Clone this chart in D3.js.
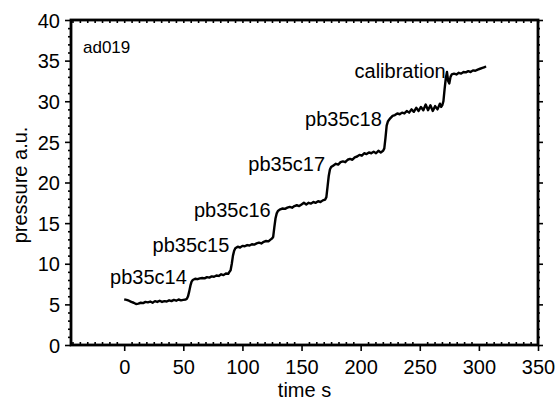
<!DOCTYPE html>
<html>
<head>
<meta charset="utf-8">
<script src="https://cdn.jsdelivr.net/npm/d3@7"></script>
<style>
  body { margin: 0; background: #fff; }
  text { font-family: "Liberation Sans", Arial, Helvetica, sans-serif; fill: #000; }
</style>
</head>
<body>
<svg width="557" height="402"></svg>
<script>
// trace, time s / pressure a.u.
var times = [0, 2, 4, 6, 8, 10, 12, 14, 16, 18, 20, 22, 24, 26, 28, 30, 32, 34, 36, 38, 40, 42, 44, 46, 48, 50, 52, 53, 54, 55, 56, 57, 58,
  60, 62, 64, 66, 68, 70, 72, 74, 76, 78, 80, 82, 84, 86, 88, 89, 90, 91, 92, 93, 94,
  96, 98, 100, 102, 104, 106, 108, 110, 112, 114, 116, 118, 120, 122, 124, 125, 126, 127, 128, 129,
  130, 132, 134, 136, 138, 140, 142, 144, 146, 148, 150, 152, 154, 156, 158, 160, 162, 164, 166, 168, 170, 171, 172, 173, 174, 175,
  177, 179, 181, 183, 185, 187, 189, 191, 193, 195, 197, 199, 201, 203, 205, 207, 209, 211, 213, 215, 217, 219, 220, 221, 222, 223,
  225, 227, 229, 231, 233, 235, 237, 239, 241, 243, 245, 247, 249, 251, 253, 255, 257, 259, 261, 263, 265, 267, 268, 269, 270, 271, 272, 273, 274, 275, 276, 277,
  279, 281, 283, 285, 287, 289, 291, 293, 295, 297, 299, 301, 303, 305, 306];
var pressure = [5.62, 5.55, 5.45, 5.3, 5.2, 5.05, 5.1, 5.2, 5.15, 5.3, 5.25, 5.35, 5.2, 5.4, 5.3, 5.45, 5.3, 5.4, 5.35, 5.5, 5.4, 5.55, 5.45, 5.6, 5.5, 5.55, 5.6, 5.7, 6.0, 6.6, 7.3, 7.8, 8.0,
  8.15, 8.1, 8.2, 8.25, 8.2, 8.35, 8.3, 8.45, 8.4, 8.55, 8.5, 8.7, 8.6, 8.8, 8.75, 9.0, 9.2, 10.0, 11.0, 11.6, 11.9,
  12.1, 12.0, 12.2, 12.15, 12.3, 12.25, 12.4, 12.35, 12.5, 12.6, 12.5, 12.7, 12.8, 12.75, 13.0, 13.1, 13.3, 14.5, 15.6, 16.2,
  16.5, 16.7, 16.8, 16.75, 16.9, 17.0, 16.9, 17.1, 17.2, 17.1, 17.3, 17.5, 17.3, 17.5, 17.4, 17.6, 17.5, 17.7, 17.6, 17.8, 17.9, 18.2, 19.5, 20.8, 21.6, 21.9,
  22.1, 22.3, 22.2, 22.5, 22.6, 22.5, 22.8, 22.9, 22.8, 23.1, 23.2, 23.4, 23.3, 23.6, 23.5, 23.7, 23.6, 23.8, 23.6, 23.9, 23.7, 23.9, 24.2, 25.5, 27.0, 27.5,
  27.9, 28.2, 28.3, 28.5, 28.4, 28.6, 28.5, 28.8, 28.6, 29.0, 28.7, 29.2, 28.8, 29.3, 28.9, 29.6, 28.9, 29.5, 28.8, 29.4, 29.0, 29.7, 29.3, 29.5, 30.0, 31.5, 32.8, 33.6, 32.5, 32.2, 33.0, 33.3,
  33.4, 33.3, 33.5, 33.4, 33.6, 33.55, 33.7, 33.6, 33.8, 33.75, 33.9, 34.0, 34.1, 34.2, 34.3];

// each run's label sits at the top of its step
var runLabels = ["pb35c14", "pb35c15", "pb35c16", "pb35c17", "pb35c18", "calibration"];
var runStepTimes = [58, 94, 129, 175, 223, 277];
var sampleName = "ad019";

var xTicks = [0, 50, 100, 150, 200, 250, 300, 350];
var yTicks = [0, 5, 10, 15, 20, 25, 30, 35, 40];

var svg = d3.select("svg"),
  margin = {top: 20, right: 19, bottom: 57, left: 71},
  width = +svg.attr("width") - margin.left - margin.right,
  height = +svg.attr("height") - margin.top - margin.bottom;

var x = d3.scaleLinear().domain([-45, 350]).range([0, width]);
var y = d3.scaleLinear().domain([0, 40]).range([height, 0]);

var g = svg.append("g")
  .attr("transform", "translate(" + margin.left + "," + margin.top + ")");

var data = times.map(function(t, i) { return {t: t, v: pressure[i]}; });

// minor ticks
var xMinor = d3.range(-43.75, 350, 6.25).filter(function(d) { return xTicks.indexOf(d) < 0; });
var yMinor = d3.range(1, 40, 1).filter(function(d) { return yTicks.indexOf(d) < 0; });

function tickStyle(sel) {
  sel.selectAll(".domain").remove();
  sel.selectAll("line").attr("stroke", "#000").attr("stroke-width", 1.6);
}

// bottom
g.append("g").attr("transform", "translate(0," + height + ")")
  .call(d3.axisBottom(x).tickValues(xTicks).tickSize(6).tickPadding(9).tickFormat(d3.format("d")))
  .call(tickStyle)
  .selectAll("text").style("font-size", "20px").attr("dy", "0.71em");
g.append("g").attr("transform", "translate(0," + height + ")")
  .call(d3.axisTop(x).tickValues(xMinor).tickSize(3).tickFormat(""))
  .call(tickStyle);

// top
g.append("g")
  .call(d3.axisBottom(x).tickValues(xTicks.concat(xMinor)).tickSize(3).tickFormat(""))
  .call(tickStyle);

// left
g.append("g")
  .call(d3.axisLeft(y).tickValues(yTicks).tickSize(6).tickPadding(5).tickFormat(d3.format("d")))
  .call(tickStyle)
  .selectAll("text").style("font-size", "20px").attr("dy", "0.36em");
g.append("g")
  .call(d3.axisLeft(y).tickValues(yMinor).tickSize(3).tickFormat(""))
  .call(tickStyle);

// right
g.append("g").attr("transform", "translate(" + width + ",0)")
  .call(d3.axisRight(y).tickValues(yTicks).tickSize(5).tickFormat(""))
  .call(tickStyle);
g.append("g").attr("transform", "translate(" + width + ",0)")
  .call(d3.axisRight(y).tickValues(yMinor).tickSize(2).tickFormat(""))
  .call(tickStyle);

// frame
g.append("rect")
  .attr("width", width)
  .attr("height", height)
  .attr("fill", "none")
  .attr("stroke", "#000")
  .attr("stroke-width", 2.8);

// trace
g.append("path")
  .datum(data)
  .attr("fill", "none")
  .attr("stroke", "#000")
  .attr("stroke-width", 2.4)
  .attr("stroke-linejoin", "round")
  .attr("d", d3.line()
    .x(function(d) { return x(d.t); })
    .y(function(d) { return y(d.v); }));

// run labels
g.selectAll(null)
  .data(runLabels)
  .enter()
  .append("text")
  .attr("x", function(d, i) { return x(runStepTimes[i]) - 6; })
  .attr("y", function(d, i) {
    var p = data.find(function(e) { return e.t === runStepTimes[i]; });
    return y(p.v) + 4;
  })
  .attr("text-anchor", "end")
  .style("font-size", "20px")
  .text(function(d) { return d; });

g.append("text")
  .attr("x", 12)
  .attr("y", 33)
  .style("font-size", "17px")
  .text(sampleName);

// axis titles
g.append("text")
  .attr("x", width / 2)
  .attr("y", height + 52)
  .attr("text-anchor", "middle")
  .style("font-size", "20px")
  .text("time s");

g.append("text")
  .attr("transform", "rotate(-90)")
  .attr("x", -165)
  .attr("y", -44)
  .attr("text-anchor", "middle")
  .style("font-size", "20px")
  .text("pressure a.u.");
</script>
</body>
</html>
